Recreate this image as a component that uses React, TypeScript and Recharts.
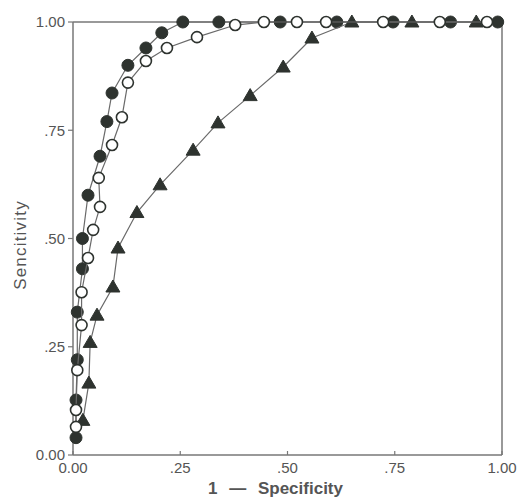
import React from "react";
import { ScatterChart, Scatter, XAxis, YAxis, ReferenceLine } from "recharts";

// tick positions and their printed labels
const axisTicks = [0, 0.25, 0.5, 0.75, 1];
const tickLabels = ["0.00", ".25", ".50", ".75", "1.00"];

// filled circles
const filledFpr = [0.007, 0.007, 0.01, 0.01, 0.022, 0.022, 0.035, 0.063, 0.079, 0.091, 0.128, 0.17, 0.207, 0.256, 0.34, 0.483, 0.615, 0.746, 0.88, 0.99];
const filledTpr = [0.04, 0.127, 0.22, 0.33, 0.43, 0.5, 0.6, 0.69, 0.77, 0.836, 0.9, 0.94, 0.975, 1, 1, 1, 1, 1, 1, 1];

// open circles
const openFpr = [0.007, 0.007, 0.01, 0.02, 0.02, 0.035, 0.047, 0.063, 0.06, 0.091, 0.114, 0.128, 0.17, 0.219, 0.289, 0.378, 0.445, 0.522, 0.59, 0.723, 0.855, 0.965];
const openTpr = [0.065, 0.104, 0.196, 0.3, 0.376, 0.455, 0.52, 0.573, 0.64, 0.716, 0.78, 0.86, 0.91, 0.94, 0.965, 0.993, 1, 1, 1, 1, 1, 1];

// triangles
const triFpr = [0.023, 0.037, 0.04, 0.056, 0.093, 0.105, 0.149, 0.203, 0.28, 0.338, 0.413, 0.49, 0.557, 0.65, 0.79, 0.94];
const triTpr = [0.08, 0.166, 0.26, 0.323, 0.388, 0.478, 0.56, 0.624, 0.704, 0.767, 0.83, 0.896, 0.963, 1, 1, 1];

const toPoints = (xs: number[], ys: number[]) => xs.map((x, i) => ({ x, y: ys[i] }));

const filledData = toPoints(filledFpr, filledTpr);
const openData = toPoints(openFpr, openTpr);
const triData = toPoints(triFpr, triTpr);

const AXIS = "#777";
const INK = "#2e332f";
const FONT = "'Liberation Sans', Arial, sans-serif";

const labelFor = (v: number) => tickLabels[axisTicks.indexOf(v)] ?? String(v);

const FilledDot = (props: any) => (
  <circle cx={props.cx} cy={props.cy} r={6} fill={INK} stroke={INK} strokeWidth={1} />
);

const OpenDot = (props: any) => (
  <circle cx={props.cx} cy={props.cy} r={5.5} fill="#fff" stroke={INK} strokeWidth={1.6} />
);

const TriangleDot = (props: any) => {
  const { cx, cy } = props;
  return (
    <polygon
      points={`${cx - 7},${cy + 5} ${cx + 7},${cy + 5} ${cx},${cy - 7}`}
      fill={INK}
      stroke={INK}
      strokeWidth={1}
    />
  );
};

const XTick = (props: any) => {
  const { x, y, payload } = props;
  return (
    <g>
      <line x1={x} x2={x} y1={y} y2={y - 4} stroke={AXIS} strokeWidth={1.2} />
      <text x={x} y={y + 18} textAnchor="middle" fill="#555" fontSize={15} fontFamily={FONT}>
        {labelFor(payload.value)}
      </text>
    </g>
  );
};

export default function App() {
  return (
    <div style={{ position: "absolute", left: 0, top: 0, width: 518, height: 498 }}>
      <ScatterChart
        width={518}
        height={498}
        margin={{ top: 22, right: 16, bottom: 0, left: 8 }}
        style={{ fontFamily: FONT }}
      >
        <XAxis
          type="number"
          dataKey="x"
          domain={[0, 1]}
          ticks={axisTicks}
          height={43}
          tickSize={0}
          tickMargin={0}
          tickLine={false}
          tick={<XTick />}
          axisLine={{ stroke: AXIS, strokeWidth: 1.5 }}
          label={{
            content: (p: any) => (
              <text
                x={p.viewBox.x + p.viewBox.width / 2 - 12}
                y={p.viewBox.y + 39}
                textAnchor="middle"
                fill="#555"
                fontSize={17}
                fontWeight="bold"
                wordSpacing={7}
                fontFamily={FONT}
              >
                1 — Specificity
              </text>
            ),
          }}
        />
        <YAxis
          type="number"
          dataKey="y"
          domain={[0, 1]}
          ticks={axisTicks}
          width={65}
          tickSize={5}
          tickMargin={3}
          tickFormatter={labelFor}
          tick={{ fill: "#555", fontSize: 15, fontFamily: FONT }}
          tickLine={{ stroke: AXIS, strokeWidth: 1.2 }}
          axisLine={{ stroke: AXIS, strokeWidth: 1.5 }}
          label={{
            content: () => (
              <text
                x={20}
                y={245}
                transform="rotate(-90 20 245)"
                textAnchor="middle"
                dominantBaseline="central"
                fill="#555"
                fontSize={17}
                letterSpacing={1.2}
                fontFamily={FONT}
              >
                Sencitivity
              </text>
            ),
          }}
        />
        <ReferenceLine y={1} stroke={AXIS} strokeWidth={1.5} ifOverflow="extendDomain" />
        <ReferenceLine x={1} stroke={AXIS} strokeWidth={1.5} ifOverflow="extendDomain" />
        <Scatter
          data={filledData}
          line={{ stroke: "#6a6a6a", strokeWidth: 1.2 }}
          shape={<FilledDot />}
          isAnimationActive={false}
        />
        <Scatter
          data={triData}
          line={{ stroke: "#6a6a6a", strokeWidth: 1.2 }}
          shape={<TriangleDot />}
          isAnimationActive={false}
        />
        <Scatter
          data={openData}
          line={{ stroke: "#6a6a6a", strokeWidth: 1.2 }}
          shape={<OpenDot />}
          isAnimationActive={false}
        />
      </ScatterChart>
    </div>
  );
}
